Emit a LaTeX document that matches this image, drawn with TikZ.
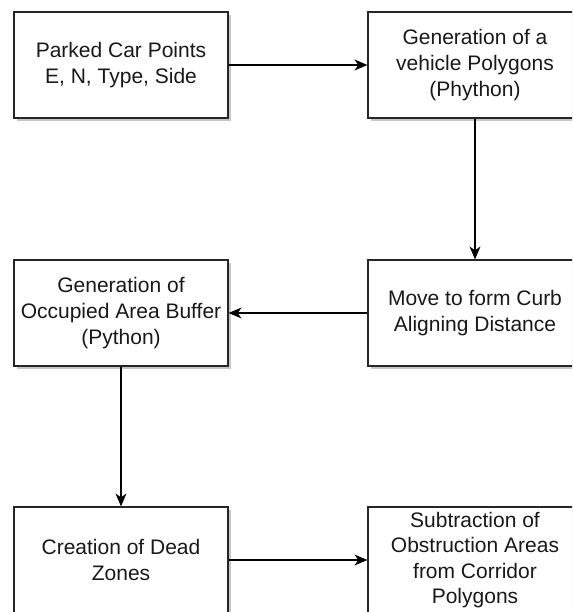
\documentclass[tikz,border=0pt]{standalone}
\usepackage{fontspec}
\setmainfont{Liberation Sans}
\usetikzlibrary{arrows.meta,shadows}
\begin{document}
\begin{tikzpicture}[x=1pt,y=1pt,
  procbox/.style={draw=black!85, line width=1.2pt, fill=white, minimum width=214pt, minimum height=106pt,
    inner sep=0pt, align=center, text=black!90,
    font=\fontsize{21}{25.6}\selectfont,
    drop shadow={shadow xshift=2.5pt, shadow yshift=-3pt, opacity=0.22, fill=black}},
  flow/.style={draw=black, line width=1.1pt, -{Stealth[length=13pt,width=11pt,inset=4pt]}}]
\clip (0,0) rectangle (572,-612);
\fill[white] (0,0) rectangle (572,-612);
\node[procbox] (cars) at (121,-65) {Parked Car Points\\E, N, Type, Side};
\node[procbox] (vpoly) at (475,-65) {Generation of a\\vehicle Polygons\\(Phython)};
\node[procbox] (move) at (475,-313) {Move to form Curb\\Aligning Distance};
\node[procbox] (buffer) at (121,-313) {Generation of\\Occupied Area Buffer\\(Python)};
\node[procbox] (dead) at (121,-560) {Creation of Dead\\Zones};
\node[procbox] (subtr) at (475,-560) {Subtraction of\\Obstruction Areas\\from Corridor\\Polygons};
\draw[flow] (cars.east) -- (vpoly.west);
\draw[flow] (vpoly.south) -- (move.north);
\draw[flow] (move.west) -- (buffer.east);
\draw[flow] (buffer.south) -- (dead.north);
\draw[flow] (dead.east) -- (subtr.west);
\end{tikzpicture}
\end{document}
